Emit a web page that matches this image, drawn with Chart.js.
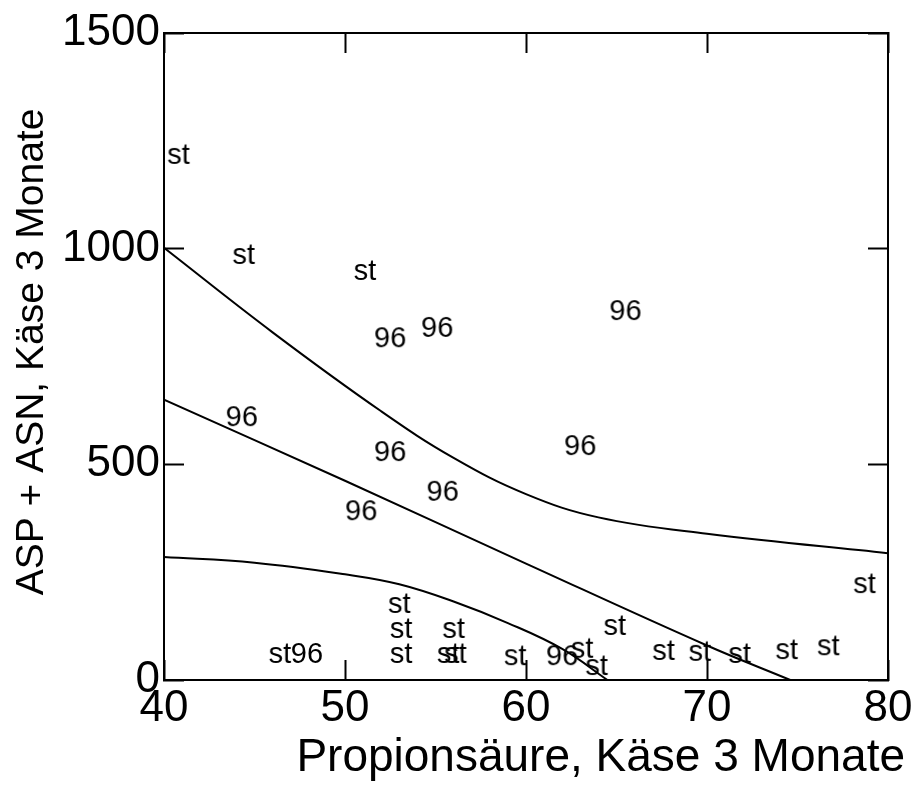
<!DOCTYPE html>
<html>
<head>
<meta charset="utf-8">
<script src="https://cdn.jsdelivr.net/npm/chart.js@4"></script>
<style>
    html, body { margin: 0; padding: 0; background: #fff; }
    #wrap { width: 918px; height: 798px; }
</style>
</head>
<body>
<div id="wrap"><canvas id="Chart" width="918" height="798"></canvas></div>
<script>
// sample points, label "st"
let stX = [40.8, 44.4, 51.1, 53.0, 53.1, 53.1, 56.0, 46.4, 55.7, 56.1, 59.4, 63.1, 63.9, 64.9, 67.6, 69.6, 71.8, 74.4, 76.7, 78.7];
let stY = [1215, 983, 946, 174, 116, 58, 116, 58, 58, 58, 53, 70, 30, 123, 65, 63, 58, 67, 76, 220];
// sample points, label "96"
let x96 = [52.5, 55.1, 65.5, 44.3, 52.5, 63.0, 55.4, 50.9, 47.9, 62.0];
let y96 = [790, 814, 853, 607, 526, 540, 434, 389, 58, 53];

// regression line and the two band curves
let fitX = [40, 50, 60, 70, 74.6];
let fitY = [650, 462, 270, 80, 0];
let upperX = [40, 46, 52, 56, 60, 64, 70, 80];
let upperY = [1002, 806, 623, 515, 431, 377, 339, 294];
let lowerX = [40, 45, 50, 53, 56, 59, 62, 64.5];
let lowerY = [285, 272, 245, 222, 182, 132, 72, 0];

let xTicks = [40, 50, 60, 70, 80];
let yTicks = [0, 500, 1000, 1500];

const FONT = '"Liberation Sans", Arial, sans-serif';

function toPoints(xs, ys) {
    return xs.map((x, i) => ({ x: x, y: ys[i] }));
}

// text used as the point marker
function makeLabel(text) {
    let c = document.createElement('canvas');
    c.width = 46;
    c.height = 36;
    let g = c.getContext('2d');
    g.font = '29px ' + FONT;
    g.fillStyle = '#000';
    g.textAlign = 'center';
    g.textBaseline = 'middle';
    g.fillText(text, c.width / 2, c.height / 2);
    return c;
}

function lineSet(xs, ys) {
    return {
        data: toPoints(xs, ys),
        showLine: true,
        borderColor: '#000',
        borderWidth: 2,
        pointRadius: 0,
        tension: 0.4
    };
}

function textSet(xs, ys, text) {
    return {
        label: text,
        data: toPoints(xs, ys),
        showLine: false,
        pointStyle: makeLabel(text),
        pointRadius: 10,
        clip: false
    };
}

const axisTitles = {
    id: 'axisTitles',
    afterDraw(chart) {
        let ctx = chart.ctx;
        ctx.save();
        ctx.fillStyle = '#000';
        ctx.font = '46px ' + FONT;
        ctx.textAlign = 'right';
        ctx.textBaseline = 'alphabetic';
        ctx.fillText('Propionsäure, Käse 3 Monate', 905, 771);
        ctx.translate(43, 352);
        ctx.rotate(-Math.PI / 2);
        ctx.font = '39px ' + FONT;
        ctx.textAlign = 'center';
        ctx.fillText('ASP + ASN, Käse 3 Monate', 0, 0);
        ctx.restore();
    }
};

function gridOpts() {
    return {
        drawOnChartArea: false,
        drawTicks: true,
        tickLength: -20,
        tickWidth: 2,
        tickColor: '#000'
    };
}

function borderOpts() {
    return { display: true, color: '#000', width: 2 };
}

function noPad(s) {
    s.paddingTop = 0;
    s.paddingBottom = 0;
    s.paddingLeft = 0;
    s.paddingRight = 0;
}

const ctx = document.getElementById('Chart').getContext('2d');
const chart = new Chart(ctx, {
    type: 'scatter',
    data: {
        datasets: [
            lineSet(upperX, upperY),
            lineSet(fitX, fitY),
            lineSet(lowerX, lowerY),
            textSet(stX, stY, 'st'),
            textSet(x96, y96, '96')
        ]
    },
    options: {
        responsive: false,
        animation: false,
        events: [],
        layout: { padding: { left: 0, right: 30, top: 33, bottom: 0 } },
        plugins: {
            legend: { display: false },
            tooltip: { enabled: false }
        },
        scales: {
            x: {
                type: 'linear',
                position: 'bottom',
                min: 40,
                max: 80,
                afterBuildTicks: s => { s.ticks = xTicks.map(v => ({ value: v })); },
                afterFit: s => { s.height = 118; noPad(s); },
                ticks: { color: '#000', font: { family: FONT, size: 44 }, padding: 22, maxRotation: 0, callback: v => String(v) },
                grid: gridOpts(),
                border: borderOpts()
            },
            x2: {
                type: 'linear',
                position: 'top',
                min: 40,
                max: 80,
                afterBuildTicks: s => { s.ticks = xTicks.map(v => ({ value: v })); },
                afterFit: s => { s.height = 0; noPad(s); },
                ticks: { display: false },
                grid: gridOpts(),
                border: borderOpts()
            },
            y: {
                type: 'linear',
                position: 'left',
                min: 0,
                max: 1500,
                afterBuildTicks: s => { s.ticks = yTicks.map(v => ({ value: v })); },
                afterFit: s => { s.width = 164; noPad(s); },
                ticks: { color: '#000', font: { family: FONT, size: 44 }, padding: 24, callback: v => String(v) },
                grid: gridOpts(),
                border: borderOpts()
            },
            y2: {
                type: 'linear',
                position: 'right',
                min: 0,
                max: 1500,
                afterBuildTicks: s => { s.ticks = yTicks.map(v => ({ value: v })); },
                afterFit: s => { s.width = 0; noPad(s); },
                ticks: { display: false },
                grid: gridOpts(),
                border: borderOpts()
            }
        }
    },
    plugins: [axisTitles]
});
</script>
</body>
</html>
